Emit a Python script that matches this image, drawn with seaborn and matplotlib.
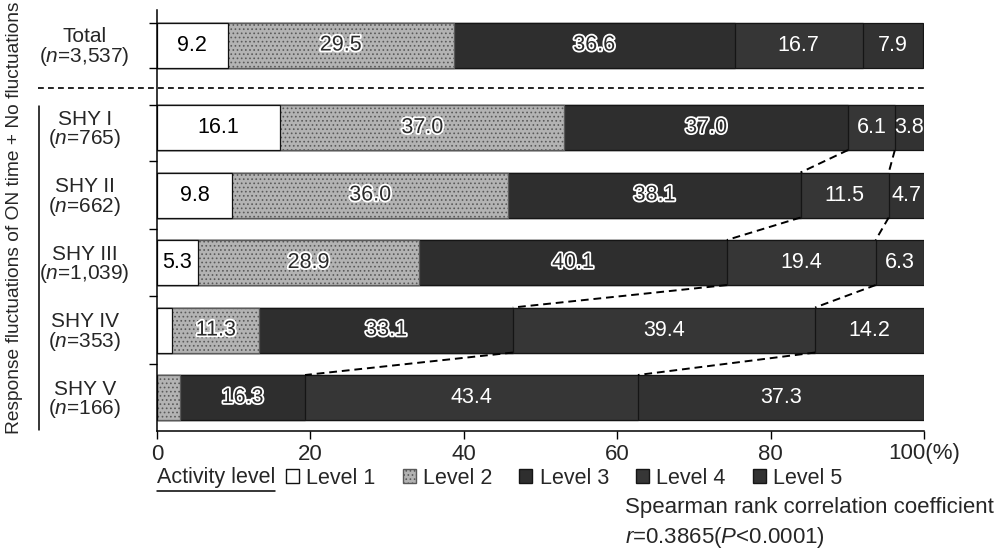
import matplotlib
matplotlib.use("Agg")
import matplotlib.pyplot as plt
import matplotlib.transforms as mtransforms
import matplotlib.patheffects as pe
from matplotlib.patches import Patch
from matplotlib.lines import Line2D
import seaborn as sns
import numpy as np
import pandas as pd

# ---------------- data ----------------
categories = ["Total", "SHY I", "SHY II", "SHY III", "SHY IV", "SHY V"]
n_labels = ["3,537", "765", "662", "1,039", "353", "166"]
level1 = [9.2, 16.1, 9.8, 5.3, 2.0, 0.0]
level2 = [29.5, 37.0, 36.0, 28.9, 11.3, 3.0]
level3 = [36.6, 37.0, 38.1, 40.1, 33.1, 16.3]
level4 = [16.7, 6.1, 11.5, 19.4, 39.4, 43.4]
level5 = [7.9, 3.8, 4.7, 6.3, 14.2, 37.3]
level_names = ["Level 1", "Level 2", "Level 3", "Level 4", "Level 5"]
x_ticks = [0, 20, 40, 60, 80, 100]
x_tick_labels = ["0", "20", "40", "60", "80", "100(%)"]
y_title = "Response fluctuations of ON time + No fluctuations"
legend_title = "Activity level"
stat_line1 = "Spearman rank correlation coefficient"
stat_line2 = r"$\it{r}$=0.3865($\it{P}$<0.0001)"

# ---------------- style ----------------
sns.set_style("ticks")
plt.rcParams["font.family"] = ["Liberation Sans", "DejaVu Sans"]
plt.rcParams["mathtext.fontset"] = "custom"
plt.rcParams["mathtext.rm"] = "Liberation Sans"
plt.rcParams["mathtext.it"] = "Liberation Sans:italic"
plt.rcParams["hatch.linewidth"] = 0.7

W, H = 1001, 559
fig = plt.figure(figsize=(W / 100, H / 100), dpi=100)
ax = fig.add_axes([157 / W, 1 - 431 / H, (924 - 157) / W, (431 - 10) / H])

row_pos = [-0.222, 1, 2, 3, 4, 5]
bar_w = 0.667
FS_BAR = 15.5
FS_CAT = 15
FS_TICK = 16
FS_LEG = 15.5
FS_STAT = 16

levels = np.array([level1, level2, level3, level4, level5])
cums = np.cumsum(levels, axis=0)
colors = ["#ffffff", "#b3b3b3", "#2e2e2e", "#363636", "#323232"]
hatches = [None, "....", None, None, None]
edges = ["#111111", "#5a5a5a", "#151515", "#151515", "#151515"]

for k in reversed(range(5)):
    df = pd.DataFrame({"value": cums[k], "pos": row_pos})
    kw = {}
    if hatches[k]:
        kw["hatch"] = hatches[k]
    sns.barplot(data=df, x="value", y="pos", orient="h", native_scale=True,
                width=bar_w, color=colors[k], saturation=1,
                edgecolor=edges[k], linewidth=0.9, errorbar=None, ax=ax, **kw)

ax.set_xlim(0, 100)
ax.set_ylim(5.496, -0.741)
ax.set_xlabel("")
ax.set_ylabel("")

# segment labels
for i in range(len(categories)):
    for k in range(5):
        v = levels[k][i]
        if v < 3.5:
            continue
        cx = cums[k][i] - v / 2
        txt = f"{v:.1f}"
        if k == 0:
            ax.text(cx, row_pos[i], txt, ha="center", va="center", fontsize=FS_BAR, color="black")
        elif k in (1, 2):
            ax.text(cx, row_pos[i], txt, ha="center", va="center", fontsize=FS_BAR,
                    color="#2a2a2a",
                    path_effects=[pe.withStroke(linewidth=2.6, foreground="white")])
        else:
            ax.text(cx, row_pos[i], txt, ha="center", va="center", fontsize=FS_BAR, color="white")

# dashed connectors between SHY bars (level 3|4 and 4|5 boundaries)
for i in range(1, len(categories) - 1):
    for k in (2, 3):
        ax.plot([cums[k][i], cums[k][i + 1]],
                [row_pos[i] + bar_w / 2, row_pos[i + 1] - bar_w / 2],
                color="black", lw=1.4, ls=(0, (4, 2.5)), zorder=5)

# separator under Total
btr = mtransforms.blended_transform_factory(ax.transAxes, ax.transData)
ax.plot([-0.155, 1.0], [0.415, 0.415], transform=btr, color="black", lw=1.2,
        ls=(0, (3.5, 2.5)), clip_on=False)

# axes styling
sns.despine(ax=ax, top=True, right=True)
for s in ("left", "bottom"):
    ax.spines[s].set_linewidth(1.1)
    ax.spines[s].set_color("black")

ax.set_yticks(row_pos)
ax.set_yticklabels([f"{c}\n($\\it{{n}}$={n})" for c, n in zip(categories, n_labels)],
                   fontsize=FS_CAT, ha="center", linespacing=0.92)
ax.tick_params(axis="y", which="major", length=0, pad=52)
ax.set_yticks([-0.555, 0.111, 0.667, 1.5, 2.5, 3.5, 4.5], minor=True)
ax.tick_params(axis="y", which="minor", length=6, width=1, direction="out", color="black")

ax.set_xticks(x_ticks)
ax.set_xticklabels(x_tick_labels, fontsize=FS_TICK)
ax.tick_params(axis="x", length=6, width=1, direction="out", pad=3, color="black")

# rotated group title and bracket
fig.text(15 / W, 1 - 218 / H, y_title, rotation=90, ha="center", va="center", fontsize=13.8)
fig.add_artist(Line2D([39 / W, 39 / W], [1 - 106 / H, 1 - 430 / H], color="black", lw=1.1))

# legend
fig.text(157 / W, 1 - 478 / H, legend_title, ha="left", va="center", fontsize=FS_LEG)
fig.add_artist(Line2D([157 / W, 275 / W], [1 - 491 / H, 1 - 491 / H], color="black", lw=1.1))
handles = [Patch(facecolor=colors[k], edgecolor=edges[k] if k else "#111111",
                 hatch=hatches[k], label=level_names[k]) for k in range(5)]
fig.legend(handles=handles, loc="center left", bbox_to_anchor=(286 / W, 1 - 478 / H),
           ncol=5, frameon=False, fontsize=FS_LEG, handlelength=0.6, handleheight=0.6,
           handletextpad=0.35, columnspacing=1.25, borderpad=0, borderaxespad=0)

# statistics
fig.text(625 / W, 1 - 507 / H, stat_line1, ha="left", va="center", fontsize=FS_STAT)
fig.text(625 / W, 1 - 537 / H, stat_line2, ha="left", va="center", fontsize=FS_STAT)

fig.savefig("out.png", dpi=100)
